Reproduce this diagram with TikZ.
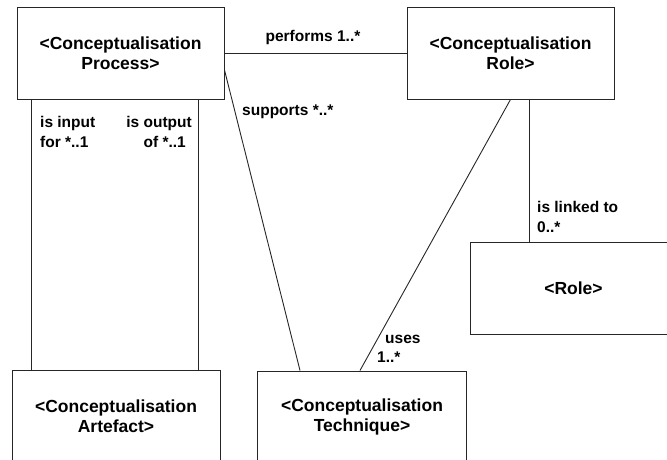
\documentclass[tikz,border=0pt]{standalone}
\usepackage{fontspec}
\setmainfont{Liberation Sans}
\begin{document}
\begin{tikzpicture}[x=1pt,y=-1pt,
  classbox/.style={draw=black!85, line width=1pt, fill=white, inner sep=0pt,
    minimum height=92pt, align=center,
    font=\bfseries\fontsize{17.5}{20}\selectfont},
  assoc/.style={draw=black!85, line width=0.9pt},
  rolelabel/.style={inner sep=0pt, font=\bfseries\fontsize{15.5}{19.3}\selectfont}]
\useasboundingbox (0,0) rectangle (667,459);
\clip (0,0) rectangle (667,459);

% classes
\node[classbox, minimum width=207pt] (proc)  at (120.5,53) {<Conceptualisation\\Process>};
\node[classbox, minimum width=207pt] (crole) at (510.5,53) {<Conceptualisation\\Role>};
\node[classbox, minimum width=207pt] (role)  at (573.5,288) {<Role>};
\node[classbox, minimum width=208pt] (art)   at (116,416) {<Conceptualisation\\Artefact>};
\node[classbox, minimum width=209pt] (tech)  at (362,417) {<Conceptualisation\\Technique>};

% associations
\draw[assoc] (proc.east) -- (crole.west);
\draw[assoc] ([yshift=-17pt]proc.east) -- ([xshift=43pt]tech.north west);
\draw[assoc] ([xshift=15pt]proc.south west) -- ([xshift=20pt]art.north west);
\draw[assoc] ([xshift=182pt]proc.south west) -- ([xshift=187pt]art.north west);
\draw[assoc] ([xshift=104pt]crole.south west) -- ([xshift=103pt]tech.north west);
\draw[assoc] ([xshift=123pt]crole.south west) -- ([xshift=60pt]role.north west);

% association labels
\node[rolelabel] (lperf) at (313,37) {performs 1..*};
\node[rolelabel, anchor=west] (lsupp) at (242,112) {supports *..*};
\node[rolelabel, anchor=west, align=left] (lin) at (40,132) {is input\\for *..1};
\node[rolelabel, anchor=east, align=right] (lout) at (192,132) {is output\\of *..1\rule{6pt}{0pt}};
\node[rolelabel, anchor=west, align=left] (llink) at (537,217) {is linked to\\0..*};
\node[rolelabel, anchor=west, align=left] (luses) at (377,349) {\rule{8pt}{0pt}uses\\1..*};
\end{tikzpicture}
\end{document}
